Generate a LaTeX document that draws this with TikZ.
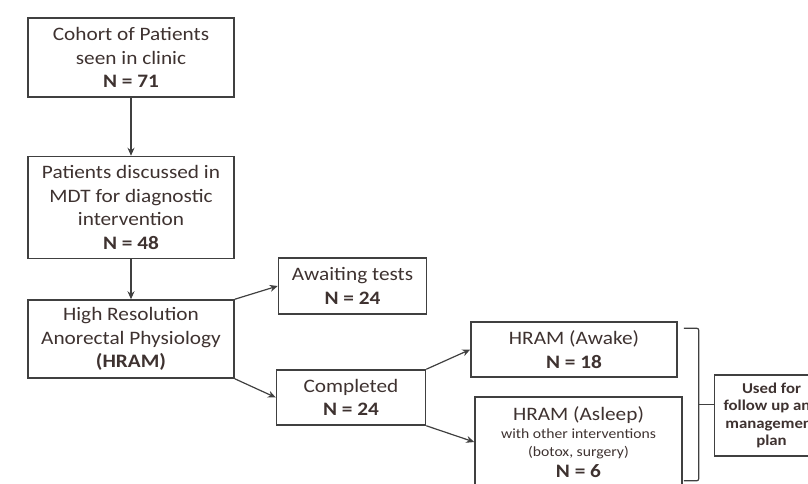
\documentclass[tikz,border=0pt]{standalone}
\usepackage{fontspec}
\setmainfont{Carlito}[FakeStretch=1.12]
\usetikzlibrary{positioning,calc,arrows.meta}
\definecolor{boxline}{RGB}{64,64,64}
\definecolor{boxtext}{RGB}{62,50,48}
\tikzstyle{block}=[draw=boxline, line width=1.5pt, align=center, inner sep=0pt, text=boxtext, font=\fontsize{19}{23.5}\selectfont]
\tikzstyle{arrow}=[draw=boxline, line width=1.2pt, ->, >={Stealth[length=8pt,width=7pt]}]
\newcommand{\smalltxt}{\fontsize{14}{18}\selectfont}

\begin{document}
\begin{tikzpicture}[x=1pt,y=-1pt]
\useasboundingbox (0,0) rectangle (808,483);
\node (cohort) [block,minimum width=206pt,minimum height=79pt] at (131,57.5) {Cohort of Patients\\seen in clinic\\\textbf{N = 71}};
\node (mdt) [block,below=58pt of cohort,minimum width=206pt,minimum height=102pt] {Patients discussed in\\MDT for diagnostic\\intervention\\\textbf{N = 48}};
\node (hram) [block,below=40pt of mdt,minimum width=206pt,minimum height=78pt] {High Resolution\\Anorectal Physiology\\\textbf{(HRAM)}};

\node (await) [block,right=43pt of hram,yshift=53pt,minimum width=148pt,minimum height=56pt] {Awaiting tests\\\textbf{N = 24}};
\node (done) [block,right=41pt of hram,yshift=-58.5pt,minimum width=149pt,minimum height=55pt] {Completed\\\textbf{N = 24}};

\node (awake) [block,right=44pt of done,yshift=48pt,minimum width=206pt,minimum height=55pt] {HRAM (Awake)\\\textbf{N = 18}};
\node (asleep) [block,right=48pt of done,yshift=-44.5pt,minimum width=207pt,minimum height=90pt] {HRAM (Asleep)\\[-5.5pt]{\smalltxt with other interventions}\\[-5.5pt]{\smalltxt (botox, surgery)}\\[-2.5pt]\textbf{N = 6}};

\node (used) [block,right=31pt of asleep,yshift=26.5pt,minimum width=114pt,minimum height=81pt,font=\bfseries\fontsize{15}{17.5}\selectfont] {Used for\\follow up and\\management\\plan};

\draw[arrow] (cohort) -- (mdt);
\draw[arrow] (mdt) -- (hram);
\draw[arrow] (hram.north east) -- (await.west);
\draw[arrow] (hram.south east) -- (done.west);
\draw[arrow] (done.north east) -- (awake.west);
\draw[arrow] (done.south east) -- (asleep.west);

% bracket round the two HRAM boxes
\coordinate (brtop) at ($(awake.north east)+(6,7)$);
\coordinate (brbot) at ($(asleep.south east)+(1,-7)$);
\coordinate (brmid) at ($(brtop)!.5!(brbot)+(15,0)$);
\draw[draw=boxline,line width=1.2pt,rounded corners=2pt] (brtop) -- ++(15,0) -- (brbot -| brmid) -- (brbot);
\draw[draw=boxline,line width=1.2pt] (brmid) -- (brmid -| used.west);
\end{tikzpicture}
\end{document}
